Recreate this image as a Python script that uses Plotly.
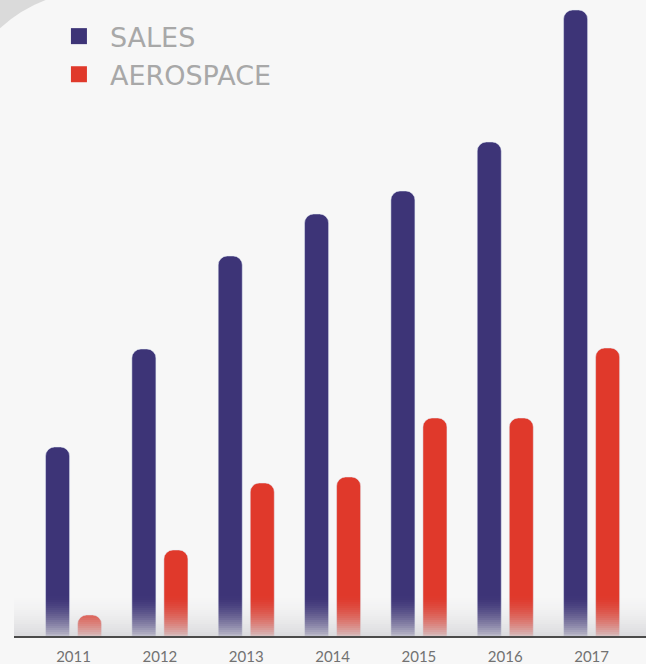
import plotly.graph_objects as go

years = ["2011", "2012", "2013", "2014", "2015", "2016", "2017"]
sales = [189, 287, 380, 422, 445, 494, 626]
aerospace = [21, 86, 153, 159, 218, 218, 288]

sales_color = "#3d3477"
aero_color = "#e0392b"

fig = go.Figure()

fig.add_trace(go.Bar(x=years, y=sales, name="SALES", marker=dict(color=sales_color, cornerradius=9),
                     showlegend=False, hoverinfo="y"))
fig.add_trace(go.Bar(x=years, y=aerospace, name="AEROSPACE", marker=dict(color=aero_color, cornerradius=9),
                     showlegend=False, hoverinfo="y"))

# legend entries (bigger squares than bar legend symbols)
for name, color in [("SALES", sales_color), ("AEROSPACE", aero_color)]:
    fig.add_trace(go.Scatter(x=[None], y=[None], mode="markers", name=name, legendgroup=name,
                             marker=dict(symbol="square", size=22, color=color)))

# fade the bar bottoms into the grey floor
shapes = []
steps = 20
for i in range(steps):
    a = 0.8 * (1 - i / steps) ** 1.6
    shapes.append(dict(type="rect", xref="paper", yref="y", x0=0, x1=1, y0=i * 2, y1=(i + 1) * 2,
                       fillcolor=f"rgba(212,212,216,{a:.3f})", line=dict(width=0), layer="above"))
# light corner streak top-left
shapes.append(dict(type="path", xref="paper", yref="paper",
                   path="M -0.023 1 L 0.05 1 Q 0.01 0.985 -0.023 0.955 Z",
                   fillcolor="rgba(205,205,205,0.7)", line=dict(width=0), layer="below"))

fig.update_layout(
    width=646, height=664,
    margin=dict(l=14, r=0, t=0, b=28),
    paper_bgcolor="#f7f7f7",
    plot_bgcolor="#f7f7f7",
    barmode="group",
    bargap=0.258,
    bargroupgap=0.25,
    shapes=shapes,
    showlegend=True,
    legend=dict(x=0.0537, y=0.981, xanchor="left", yanchor="top", bgcolor="rgba(0,0,0,0)",
                font=dict(family="DejaVu Sans", size=27, color="#a8a8a8"),
                tracegroupgap=0, itemwidth=52),
    xaxis=dict(type="category", range=[-0.69, 6.63], showgrid=False, zeroline=False,
               showline=True, linecolor="#4a4a4a", linewidth=2, ticks="", ticklabelstandoff=6,
               tickfont=dict(family="Lato", size=15, color="#727272")),
    yaxis=dict(range=[0, 636], visible=False, showgrid=False, zeroline=False),
)

fig.write_html("out.html", config={"displayModeBar": False},
               post_script="document.body.style.margin='0';document.body.style.overflow='hidden';")
